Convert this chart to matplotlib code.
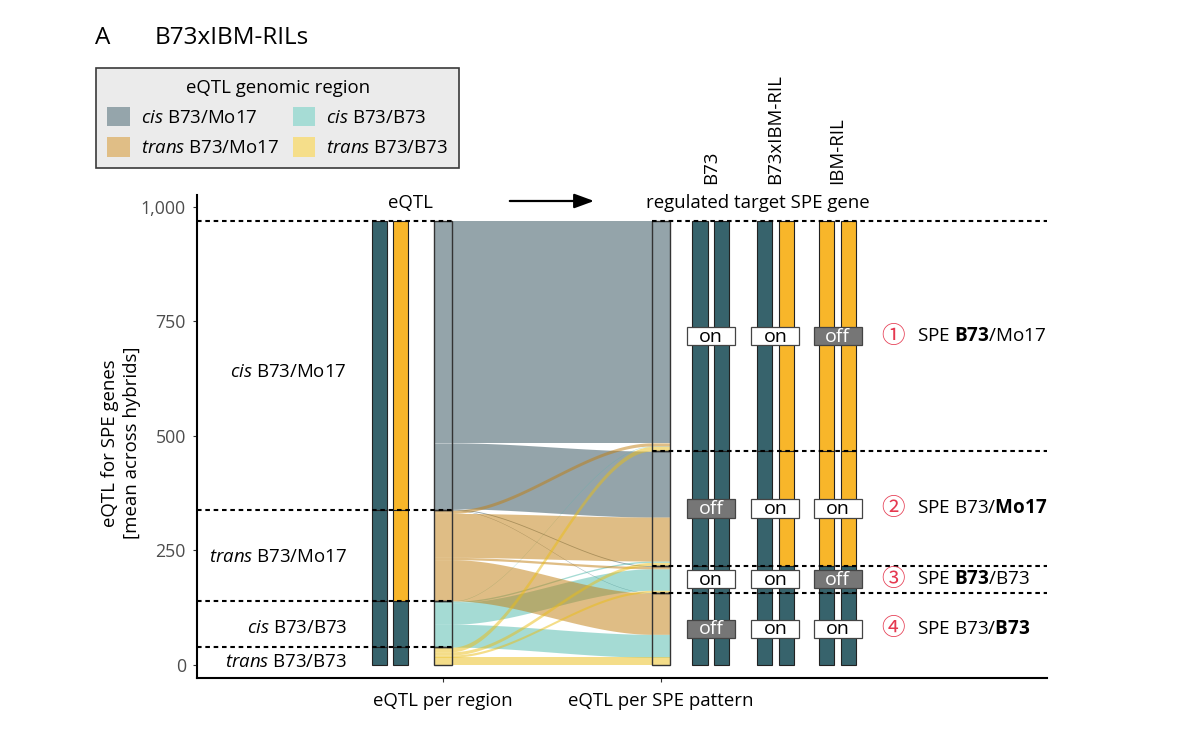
import numpy as np
import matplotlib
matplotlib.use('Agg')
import matplotlib.pyplot as plt
from matplotlib.patches import Rectangle, Patch

plt.rcParams['font.family'] = ['Open Sans', 'Noto Sans CJK JP', 'DejaVu Sans']
plt.rcParams['mathtext.fontset'] = 'custom'
plt.rcParams['mathtext.rm'] = 'Open Sans'
plt.rcParams['mathtext.it'] = 'Open Sans:italic'
plt.rcParams['mathtext.bf'] = 'Open Sans:bold'

region_labels = [r'$\mathit{cis}$ B73/Mo17', r'$\mathit{trans}$ B73/Mo17',
                 r'$\mathit{cis}$ B73/B73', r'$\mathit{trans}$ B73/B73']
pattern_labels = [r'SPE $\mathbf{B73}$/Mo17', r'SPE B73/$\mathbf{Mo17}$',
                  r'SPE $\mathbf{B73}$/B73', r'SPE B73/$\mathbf{B73}$']
pattern_marks = ['①', '②', '③', '④']
genotypes = ['B73', 'B73xIBM-RIL', 'IBM-RIL']
yticks = [0, 250, 500, 750, 1000]

# mean eQTL per genomic region (rows) flowing to each SPE pattern (columns 1-4)
cis_mo17 = [484, 144, 2, 1]
trans_mo17 = [7, 96, 5, 90]
cis_b73 = [1, 3, 47, 50]
trans_b73 = [10, 7, 5, 17]

# on/off state of the regulated gene, per pattern
state_b73 = ['on', 'off', 'on', 'off']
state_hybrid = ['on', 'on', 'on', 'on']
state_ril = ['off', 'on', 'off', 'on']

# alleles of the two bars (left: per region, right: per pattern)
region_alleles = [['B73', 'Mo17'], ['B73', 'Mo17'], ['B73', 'B73'], ['B73', 'B73']]
b73_alleles = [['B73', 'B73'], ['B73', 'B73'], ['B73', 'B73'], ['B73', 'B73']]
hybrid_alleles = [['B73', 'Mo17'], ['B73', 'Mo17'], ['B73', 'B73'], ['B73', 'B73']]
ril_alleles = [['Mo17', 'Mo17'], ['Mo17', 'Mo17'], ['B73', 'B73'], ['B73', 'B73']]

flow_colors = ['#2B4B57', '#C17D0D', '#4DB9AB', '#EBBD15']
legend_colors = ['#95A5AB', '#E0BE86', '#A6DCD5', '#F5DE8A']
allele_colors = {'B73': '#37636C', 'Mo17': '#F8B62A'}

flows = np.array([cis_mo17, trans_mo17, cis_b73, trans_b73])
reg_tot = flows.sum(axis=1)
pat_tot = flows.sum(axis=0)
total = flows.sum()
reg_top = total - np.concatenate([[0], np.cumsum(reg_tot)[:-1]])
pat_top = total - np.concatenate([[0], np.cumsum(pat_tot)[:-1]])
reg_bot = reg_top - reg_tot
pat_bot = pat_top - pat_tot
pat_mid = (pat_top + pat_bot) / 2

fig = plt.figure(figsize=(11.79, 7.36), dpi=100)
ax = fig.add_axes([0.1671, 0.0788, 0.721, 0.6562])
x_lo, x_hi = -0.128, 3.771
ax.set_xlim(x_lo, x_hi)
ax.set_ylim(-28.4, 1026)

w = 0.083   # stratum width
bw = 0.069  # allele bar width
fs = 13.4

# flows (teal drawn under tan, yellow on top)
xc = np.linspace(1 + w / 2, 2 - w / 2, 150)
t = (xc - xc[0]) / (xc[-1] - xc[0])
s = t * t * (3 - 2 * t)
xs = np.concatenate([[1 - w / 2], xc, [2 + w / 2]])
for r in [0, 2, 1, 3]:
    for p in range(4):
        v = flows[r, p]
        lt = reg_top[r] - flows[r, :p].sum()
        rt = pat_top[p] - flows[:r, p].sum()
        top = np.concatenate([[lt], lt + (rt - lt) * s, [rt]])
        ax.fill_between(xs, top - v, top, color=flow_colors[r], alpha=0.5, lw=0, zorder=1)

# strata outlines
for r in range(4):
    ax.add_patch(Rectangle((1 - w / 2, reg_bot[r]), w, reg_tot[r], fc='none', ec='#333333', lw=1, zorder=2))
for p in range(4):
    ax.add_patch(Rectangle((2 - w / 2, pat_bot[p]), w, pat_tot[p], fc='none', ec='#333333', lw=1, zorder=2))

# allele bars on the left
for i, bx in enumerate([0.709, 0.807]):
    for r in range(4):
        ax.add_patch(Rectangle((bx - bw / 2, reg_bot[r]), bw, reg_tot[r],
                               fc=allele_colors[region_alleles[r][i]], ec='#222222', lw=0.8, zorder=2))

# allele bars and on/off boxes on the right
pair_x = [2.229, 2.525, 2.81]
for gx, alleles, states in zip(pair_x, [b73_alleles, hybrid_alleles, ril_alleles],
                               [state_b73, state_hybrid, state_ril]):
    for i, off in enumerate([-0.05, 0.05]):
        for p in range(4):
            ax.add_patch(Rectangle((gx + off - bw / 2, pat_bot[p]), bw, pat_tot[p],
                                   fc=allele_colors[alleles[p][i]], ec='#222222', lw=0.8, zorder=2))
    for p in range(4):
        on = states[p] == 'on'
        ax.add_patch(Rectangle((gx - 0.11, pat_mid[p] - 20), 0.22, 40,
                               fc='white' if on else '#767676', ec='#444444', lw=0.9, zorder=4))
        ax.text(gx, pat_mid[p] - 1, states[p], ha='center', va='center', fontsize=14,
                color='black' if on else 'white', zorder=5)

# dashed guide lines
dash = dict(colors='black', linestyles=(0, (2.2, 1.8)), lw=1.5, zorder=3)
ax.hlines(np.append(reg_top[1:], total), x_lo, 1 + w / 2, **dash)
ax.hlines(np.append(pat_top[1:], total), 2 - w / 2, x_hi, **dash)

# region labels
for lab, ly in zip(region_labels, [640, 236, 81, 7]):
    ax.text(0.56, ly, lab, ha='right', va='center', fontsize=fs)

# pattern labels
for p in range(4):
    ax.text(3.064, pat_mid[p], pattern_marks[p], ha='center', va='center', fontsize=17,
            color='#E53950', family=['Noto Sans CJK JP', 'DejaVu Sans'])
    ax.text(3.174, pat_mid[p], pattern_labels[p], ha='left', va='center', fontsize=13.6)

# headers
ax.text(0.853, 1009, 'eQTL', ha='center', va='center', fontsize=fs)
ax.annotate('', xy=(1.706, 1013), xytext=(1.294, 1013),
            arrowprops=dict(arrowstyle='-|>,head_length=0.6,head_width=0.22', color='black',
                            lw=1.6, mutation_scale=20))
ax.text(2.445, 1009, 'regulated target SPE gene', ha='center', va='center', fontsize=fs)
for gx, g in zip(pair_x, genotypes):
    ax.text(gx, 1050, g, rotation=90, ha='center', va='bottom', fontsize=fs, clip_on=False)

# axes styling
ax.spines['top'].set_visible(False)
ax.spines['right'].set_visible(False)
ax.spines['left'].set_linewidth(1.5)
ax.spines['bottom'].set_linewidth(1.5)
ax.set_yticks(yticks)
ax.set_yticklabels([f'{v:,}' for v in yticks])
ax.tick_params(axis='y', length=3, pad=5, labelsize=12.8, labelcolor='#4D4D4D', color='#333333')
ax.set_xticks([1, 2])
ax.set_xticklabels(['eQTL per region', 'eQTL per SPE pattern'])
ax.tick_params(axis='x', length=3, pad=7, labelsize=fs, color='#333333')

fig.text(121 / 1179, 1 - 443 / 736, 'eQTL for SPE genes\n[mean across hybrids]',
         rotation=90, ha='center', va='center', fontsize=fs, multialignment='center',
         linespacing=1.3)

fig.text(103 / 1179, 1 - 38 / 736, 'A', ha='center', va='center', fontsize=17.5)
fig.text(155 / 1179, 1 - 38 / 736, 'B73xIBM-RILs', ha='left', va='center', fontsize=17.5)

handles = [Patch(facecolor=c, edgecolor='none') for c in legend_colors]
leg = fig.legend(handles, region_labels, ncol=2, loc='upper left',
                 bbox_to_anchor=(96 / 1179, 1 - 68 / 736), bbox_transform=fig.transFigure,
                 borderaxespad=0, fontsize=fs, title='eQTL genomic region', title_fontsize=fs,
                 handlelength=1.2, handleheight=1.2, handletextpad=0.6, columnspacing=0.75,
                 labelspacing=0.55, fancybox=False, framealpha=1, borderpad=0.6)
leg.get_frame().set_facecolor('#EBEBEB')
leg.get_frame().set_edgecolor('#3A3A3A')
leg.get_frame().set_linewidth(1.2)

fig.savefig('out.png', dpi=100)
